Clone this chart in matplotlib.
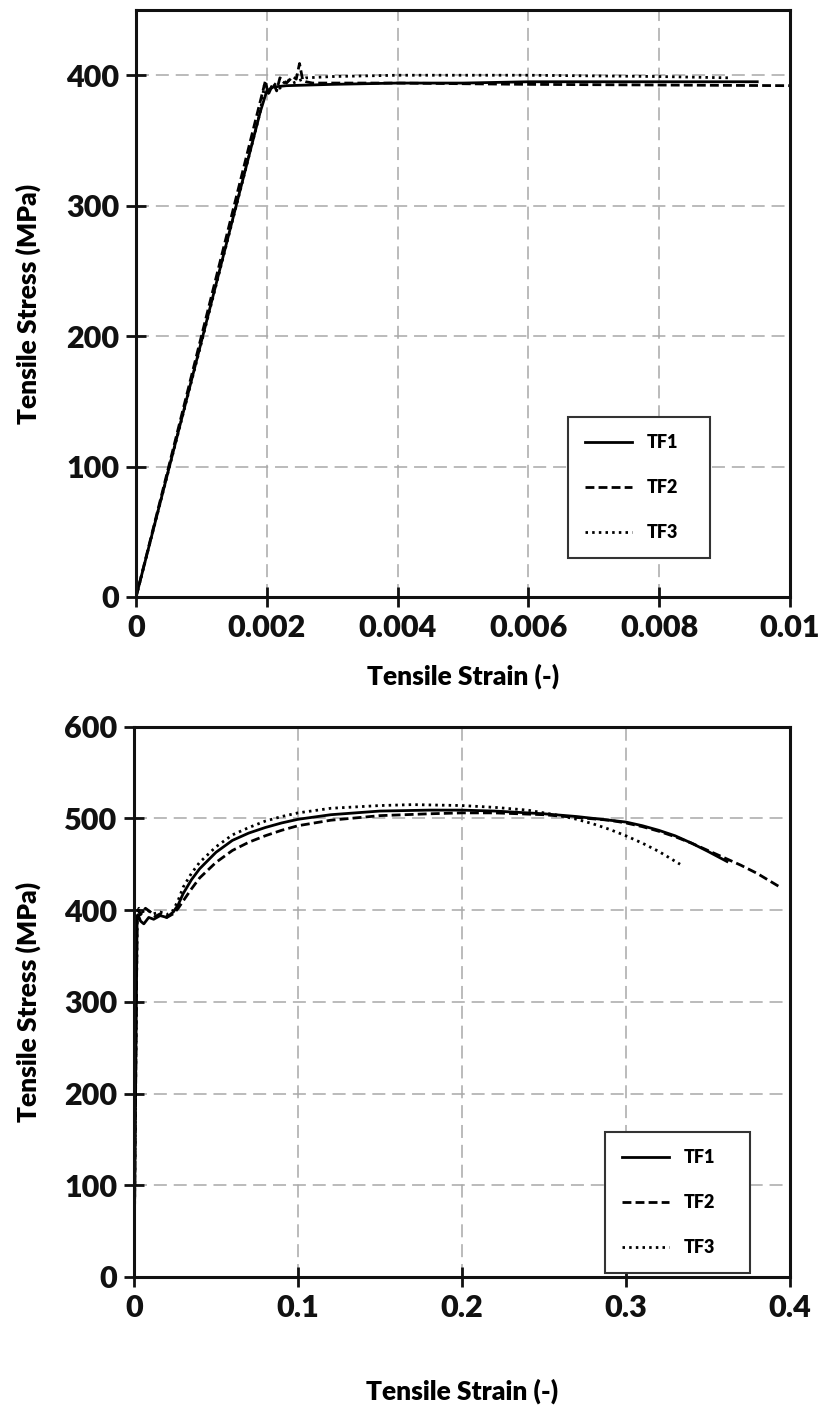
import matplotlib
matplotlib.use("Agg")
import matplotlib.pyplot as plt
from matplotlib.ticker import FixedLocator

plt.rcParams['font.family'] = ['Lato', 'DejaVu Sans']
plt.rcParams['font.weight'] = 'bold'

# ---- small-strain (elastic / yield) panel ----
tf1_small_strain = [0, 0.0005, 0.001, 0.0015, 0.0019, 0.002, 0.0021, 0.0023, 0.003,
                    0.004, 0.005, 0.006, 0.007, 0.008, 0.009, 0.0095]
tf1_small_stress = [0, 98, 196, 294, 372, 388, 391, 392, 393,
                    394, 394, 395, 395, 395, 395, 395]

tf2_small_strain = [0, 0.001, 0.0019, 0.00198, 0.00202, 0.0021, 0.00215, 0.0022, 0.0023,
                    0.0024, 0.00245, 0.0025, 0.00255, 0.0026, 0.0027, 0.003, 0.004,
                    0.006, 0.008, 0.01]
tf2_small_stress = [0, 200, 380, 396, 385, 394, 388, 398, 394,
                    399, 397, 409, 396, 395, 394, 394, 394,
                    393, 392.5, 392]

tf3_small_strain = [0, 0.001, 0.0019, 0.00196, 0.002, 0.0021, 0.0022, 0.0023, 0.0024,
                    0.0026, 0.003, 0.004, 0.006, 0.008, 0.0091]
tf3_small_stress = [0, 195, 372, 392, 384, 394, 390, 397, 394,
                    398, 399, 400, 400, 399, 398]

# ---- full stress-strain panel ----
tf1_strain = [0, 0.0019, 0.0025, 0.004, 0.006, 0.009, 0.012, 0.016, 0.02, 0.024, 0.027,
              0.03, 0.035, 0.04, 0.05, 0.06, 0.07, 0.08, 0.09, 0.1, 0.12, 0.15, 0.18,
              0.2, 0.22, 0.25, 0.27, 0.29, 0.3, 0.31, 0.32, 0.33, 0.34, 0.35, 0.3616]
tf1_stress = [0, 392, 395, 388, 385, 392, 390, 394, 392, 398, 406,
              418, 433, 445, 463, 476, 484, 490, 495, 499, 504, 508, 509,
              509, 508, 505, 502, 498, 496, 492, 487, 481, 473, 464, 453]

tf2_strain = [0, 0.0019, 0.002, 0.0025, 0.004, 0.007, 0.01, 0.013, 0.016, 0.02, 0.024,
              0.027, 0.03, 0.035, 0.04, 0.05, 0.06, 0.07, 0.08, 0.09, 0.1, 0.12, 0.15,
              0.18, 0.2, 0.22, 0.25, 0.27, 0.29, 0.3, 0.31, 0.32, 0.33, 0.34, 0.35,
              0.36, 0.37, 0.38, 0.394]
tf2_stress = [0, 388, 398, 400, 395, 402, 398, 393, 396, 392, 396,
              402, 410, 423, 435, 452, 465, 474, 481, 487, 492, 498, 503,
              505, 506, 506, 504, 501, 498, 495, 491, 486, 480, 473, 465,
              457, 449, 440, 425]

tf3_strain = [0, 0.0019, 0.002, 0.003, 0.005, 0.008, 0.012, 0.016, 0.02, 0.024, 0.027,
              0.03, 0.035, 0.04, 0.05, 0.06, 0.07, 0.08, 0.09, 0.1, 0.12, 0.15, 0.17,
              0.2, 0.22, 0.24, 0.26, 0.27, 0.28, 0.29, 0.3, 0.31, 0.32, 0.333]
tf3_stress = [0, 385, 396, 402, 398, 400, 396, 398, 395, 400, 411,
              425, 440, 452, 469, 482, 490, 497, 502, 506, 511, 514, 515,
              514, 512, 509, 503, 499, 494, 488, 481, 473, 464, 450]

labels = ["TF1", "TF2", "TF3"]
top_xticks = [0, 0.002, 0.004, 0.006, 0.008, 0.01]
top_xticklabels = ["0", "0.002", "0.004", "0.006", "0.008", "0.01"]
top_yticks = [0, 100, 200, 300, 400]
bot_xticks = [0, 0.1, 0.2, 0.3, 0.4]
bot_xticklabels = ["0", "0.1", "0.2", "0.3", "0.4"]
bot_yticks = [0, 100, 200, 300, 400, 500, 600]

styles = [dict(linestyle='-', linewidth=2.0),
          dict(linestyle=(0, (3.2, 1.5)), linewidth=2.0),
          dict(linestyle=(0, (0.9, 1.5)), linewidth=2.0)]

fig = plt.figure(figsize=(8.22, 14.11), dpi=100)
ax1 = fig.add_axes([0.1655, 0.5769, 0.7955, 0.4160])
ax2 = fig.add_axes([0.1630, 0.0950, 0.7980, 0.3900])


def style_axes(ax, xticks, xticklabels, yticks, xlim, ylim, xlab_y, ylab_x):
    ax.set_xlim(*xlim)
    ax.set_ylim(*ylim)
    ax.xaxis.set_major_locator(FixedLocator(xticks))
    ax.set_xticklabels(xticklabels)
    ax.yaxis.set_major_locator(FixedLocator(yticks))
    ax.set_yticklabels([str(v) for v in yticks])
    ax.grid(True, color='#a8a8a8', linestyle=(0, (8.5, 4.5)), linewidth=1.1)
    ax.set_axisbelow(True)
    for s in ax.spines.values():
        s.set_linewidth(2.2)
        s.set_color('#111111')
    ax.tick_params(direction='inout', length=14, width=2, colors='#111111',
                   labelsize=22, pad=5)
    for t in ax.get_xticklabels() + ax.get_yticklabels():
        t.set_fontweight('heavy')
    ax.set_xlabel("Tensile Strain (-)", fontsize=19, fontweight='heavy')
    ax.set_ylabel("Tensile Stress (MPa)", fontsize=19, fontweight='heavy')
    ax.xaxis.set_label_coords(0.5, xlab_y)
    ax.yaxis.set_label_coords(ylab_x, 0.5)


style_axes(ax1, top_xticks, top_xticklabels, top_yticks, (0, 0.01), (0, 450),
           -0.114, -0.145)
for (x, y), st, lab in zip([(tf1_small_strain, tf1_small_stress),
                            (tf2_small_strain, tf2_small_stress),
                            (tf3_small_strain, tf3_small_stress)], styles, labels):
    ax1.plot(x, y, color='black', label=lab, **st)

style_axes(ax2, bot_xticks, bot_xticklabels, bot_yticks, (0, 0.4), (0, 600),
           -0.184, -0.142)
for (x, y), st, lab in zip([(tf1_strain, tf1_stress),
                            (tf2_strain, tf2_stress),
                            (tf3_strain, tf3_stress)], styles, labels):
    ax2.plot(x, y, color='black', label=lab, **st)


def add_legend(ax, x0, y0, w, h):
    leg = ax.legend(loc='upper left', bbox_to_anchor=(x0, y0, w, h), mode='expand',
                    bbox_transform=fig.transFigure, frameon=True, fancybox=False,
                    edgecolor='#333333', framealpha=1, handlelength=2.6,
                    handletextpad=0.8, labelspacing=1.55, borderpad=0.95,
                    borderaxespad=0, prop={'weight': 'heavy', 'size': 13})
    leg.get_frame().set_linewidth(1.5)
    return leg


add_legend(ax1, 568 / 822, 1 - 560 / 1411, 142 / 822, 143 / 1411)
add_legend(ax2, 605 / 822, 1 - 1273 / 1411, 145 / 822, 141 / 1411)

fig.savefig("out.png", dpi=100, facecolor='white')
